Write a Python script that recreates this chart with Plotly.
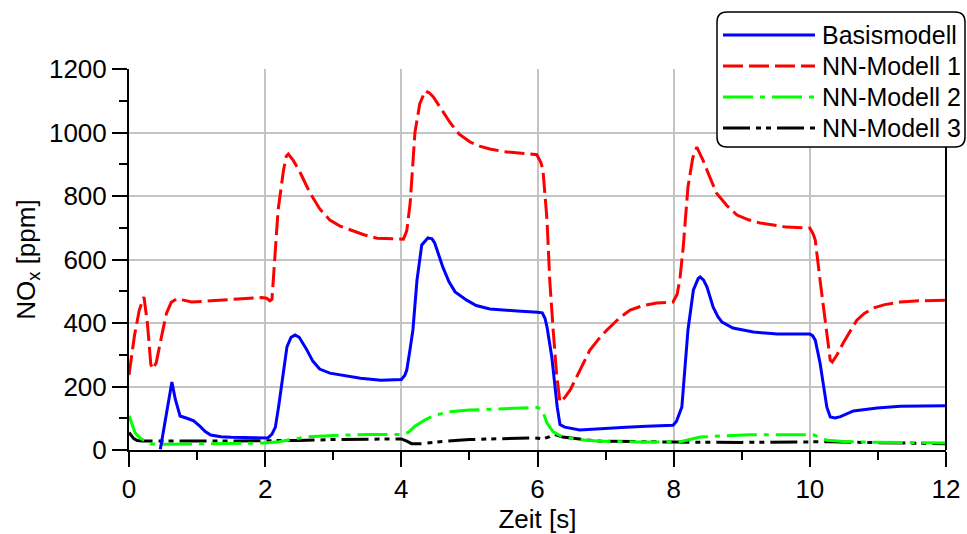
import plotly.graph_objects as go

# ---- data ----
t_basis = [0.46, 0.55, 0.63, 0.68, 0.75, 0.85, 0.95, 1.04, 1.12, 1.2, 1.35, 1.5, 1.8, 2.04, 2.1, 2.15, 2.2,
           2.25, 2.32, 2.38, 2.44, 2.5, 2.6, 2.7, 2.8, 2.95, 3.1, 3.4, 3.7, 4.0, 4.05, 4.08, 4.13, 4.17,
           4.23, 4.3, 4.39, 4.45, 4.49, 4.55, 4.61, 4.7, 4.79, 4.96, 5.1, 5.3, 5.5, 5.7, 6.0, 6.07, 6.11,
           6.14, 6.21, 6.29, 6.33, 6.4, 6.62, 6.8, 7.02, 7.3, 7.6, 7.99, 8.04, 8.08, 8.12, 8.21, 8.29,
           8.36, 8.39, 8.44, 8.49, 8.58, 8.65, 8.71, 8.87, 9.17, 9.52, 10.0, 10.04, 10.08, 10.15, 10.25,
           10.3, 10.37, 10.45, 10.64, 10.8, 10.99, 11.33, 12.0]
v_basis = [2, 110, 214, 160, 107, 100, 92, 75, 58, 47, 42, 40, 38, 38, 50, 72, 140,
           211, 325, 355, 362, 355, 320, 280, 255, 242, 236, 226, 220, 222, 235, 252, 320, 378,
           535, 646, 668, 665, 652, 615, 576, 530, 498, 472, 455, 444, 440, 438, 434, 432, 415,
           387, 293, 135, 80, 72, 63, 66, 69, 72, 75, 78, 90, 115, 135, 378, 504,
           540, 545, 535, 513, 450, 420, 403, 384, 372, 365, 365, 360, 346, 274, 135,
           104, 101, 105, 123, 128, 132, 138, 139]

t_nn1 = [0.0, 0.08, 0.15, 0.22, 0.27, 0.32, 0.35, 0.4, 0.48, 0.55, 0.62, 0.7, 0.8, 0.92, 1.2, 1.5, 1.8,
         1.95, 2.02, 2.07, 2.1, 2.12, 2.19, 2.27, 2.31, 2.34, 2.41, 2.5, 2.66, 2.8, 2.95, 3.1, 3.25,
         3.45, 3.64, 4.03, 4.08, 4.13, 4.2, 4.27, 4.35, 4.41, 4.47, 4.6, 4.72, 4.85, 5.01, 5.15, 5.3,
         5.5, 5.7, 5.99, 6.05, 6.08, 6.14, 6.18, 6.23, 6.28, 6.33, 6.4, 6.48, 6.6, 6.77, 6.9, 7.02,
         7.2, 7.36, 7.55, 7.75, 7.99, 8.05, 8.09, 8.14, 8.21, 8.28, 8.34, 8.43, 8.53, 8.63, 8.78, 8.93,
         9.1, 9.27, 9.66, 10.0, 10.05, 10.08, 10.15, 10.25, 10.3, 10.33, 10.4, 10.49, 10.6, 10.69,
         10.8, 10.93, 11.1, 11.33, 11.6, 12.0]
v_nn1 = [236, 360, 440, 482, 400, 270, 255, 275, 360, 430, 465, 476, 472, 466, 470, 474, 478,
         480, 478, 470, 475, 535, 756, 882, 925, 932, 913, 880, 809, 760, 724, 705, 693,
         678, 667, 664, 690, 778, 1000, 1090, 1131, 1125, 1112, 1070, 1030, 995, 970, 957, 948,
         940, 935, 930, 905, 882, 724, 535, 378, 240, 151, 165, 189, 240, 315, 350, 378,
         415, 441, 455, 463, 466, 490, 535, 639, 828, 920, 954, 913, 860, 809, 770, 740,
         725, 715, 702, 699, 680, 661, 535, 378, 283, 277, 300, 337, 375, 409,
         430, 447, 458, 466, 470, 472]

t_nn2 = [0.0, 0.05, 0.09, 0.16, 0.25, 0.31, 0.5, 1.0, 1.5, 2.0, 2.2, 2.32, 2.6, 3.0, 3.5, 4.0, 4.1,
         4.2, 4.35, 4.5, 4.7, 5.0, 5.5, 6.0, 6.07, 6.14, 6.23, 6.37, 6.6, 6.87, 7.5, 8.0, 8.1, 8.39,
         8.63, 9.12, 10.05, 10.15, 10.25, 10.5, 10.84, 12.0]
v_nn2 = [108, 75, 54, 38, 25, 19, 18, 20, 21, 22, 26, 31, 41, 46, 49, 49, 55,
         75, 95, 110, 120, 126, 130, 134, 126, 85, 57, 41, 33, 28, 25, 24, 26, 41,
         44, 48, 48, 40, 31, 27, 25, 22]

t_nn3 = [0.0, 0.03, 0.07, 0.12, 0.2, 1.0, 2.0, 2.5, 3.0, 3.5, 4.0, 4.08, 4.15, 4.3, 4.6, 5.0, 5.5,
         5.95, 6.08, 6.18, 6.23, 6.3, 6.37, 6.87, 7.6, 8.0, 9.0, 10.0, 10.3, 11.0, 12.0]
v_nn3 = [55, 45, 36, 30, 28, 28, 28, 30, 33, 35, 35, 28, 20, 20, 27, 33, 36,
         38, 35, 42, 50, 45, 41, 28, 25, 25, 24, 24, 26, 23, 20]

series_names = ["Basismodell", "NN-Modell 1", "NN-Modell 2", "NN-Modell 3"]
x_ticks = [0, 2, 4, 6, 8, 10, 12]
y_ticks = [0, 200, 400, 600, 800, 1000, 1200]

# ---- styles ----
colors = ["#0000ff", "#ff0000", "#00ff00", "#000000"]
dashes = ["solid", "20px,6px", "30px,7px,5px,7px", "27px,6px,5px,5px,5px,6px"]
FONT = "Liberation Sans, Arial, sans-serif"

fig = go.Figure()
data = [(t_basis, v_basis), (t_nn1, v_nn1), (t_nn2, v_nn2), (t_nn3, v_nn3)]
for i in [3, 2, 1, 0]:
    tx, vy = data[i]
    fig.add_trace(go.Scatter(x=tx, y=vy, mode="lines", name=series_names[i],
                             line=dict(color=colors[i], width=3, dash=dashes[i]),
                             showlegend=False))

fig.update_layout(
    width=967, height=534,
    margin=dict(l=129, r=21, t=69, b=84, autoexpand=False),
    paper_bgcolor="white", plot_bgcolor="white",
    font=dict(family=FONT, size=26, color="black"),
)
fig.update_xaxes(
    range=[0, 12], tickvals=x_ticks, ticktext=[str(v) for v in x_ticks],
    showgrid=True, gridcolor="#c4c4c4", gridwidth=2,
    showline=True, linecolor="black", linewidth=2,
    ticks="outside", ticklen=15, tickwidth=1.5, tickcolor="black",
    minor=dict(dtick=1, ticks="outside", ticklen=8, tickwidth=1.5, tickcolor="black", showgrid=False),
    zeroline=False, automargin=False,
    title=dict(text="Zeit [s]", standoff=11, font=dict(size=26)),
    tickfont=dict(size=26),
)
fig.update_yaxes(
    range=[0, 1200], tickvals=y_ticks, ticktext=[str(v) for v in y_ticks],
    showgrid=True, gridcolor="#c4c4c4", gridwidth=2,
    showline=True, linecolor="black", linewidth=2,
    ticks="outside", ticklen=15, tickwidth=1.5, tickcolor="black",
    minor=dict(dtick=100, ticks="outside", ticklen=8, tickwidth=1.5, tickcolor="black", showgrid=False),
    zeroline=False, automargin=False,
    title=dict(text="NO<sub>x</sub> [ppm]", standoff=6, font=dict(size=26)),
    tickfont=dict(size=26),
)

# right border
fig.add_shape(type="line", xref="paper", yref="paper", x0=1, x1=1, y0=0, y1=1,
              line=dict(color="black", width=2), layer="above")

# ---- manual legend ----
pw, ph = 817.0, 381.0
def px(xp):
    return (xp - 129) / pw
def py(yp):
    return (450 - yp) / ph
x0, x1, y0, y1 = px(717), px(965), py(147), py(12)
rx, ry = 10 / pw, 10 / ph
path = (f"M {x0+rx},{y1} L {x1-rx},{y1} Q {x1},{y1} {x1},{y1-ry} L {x1},{y0+ry} "
        f"Q {x1},{y0} {x1-rx},{y0} L {x0+rx},{y0} Q {x0},{y0} {x0},{y0+ry} "
        f"L {x0},{y1-ry} Q {x0},{y1} {x0+rx},{y1} Z")
fig.add_shape(type="path", xref="paper", yref="paper", path=path,
              fillcolor="white", line=dict(color="black", width=1.5), layer="above")
rows = [35, 66, 97, 128]
for i, name in enumerate(series_names):
    yy = py(rows[i])
    fig.add_shape(type="line", xref="paper", yref="paper", x0=px(723), x1=px(815), y0=yy, y1=yy,
                  line=dict(color=colors[i], width=3, dash=dashes[i]), layer="above")
    fig.add_annotation(xref="paper", yref="paper", x=px(820), y=yy, text=name, showarrow=False,
                       xanchor="left", yanchor="middle", font=dict(size=25, color="black", family=FONT))

fig.write_html("out.html")
